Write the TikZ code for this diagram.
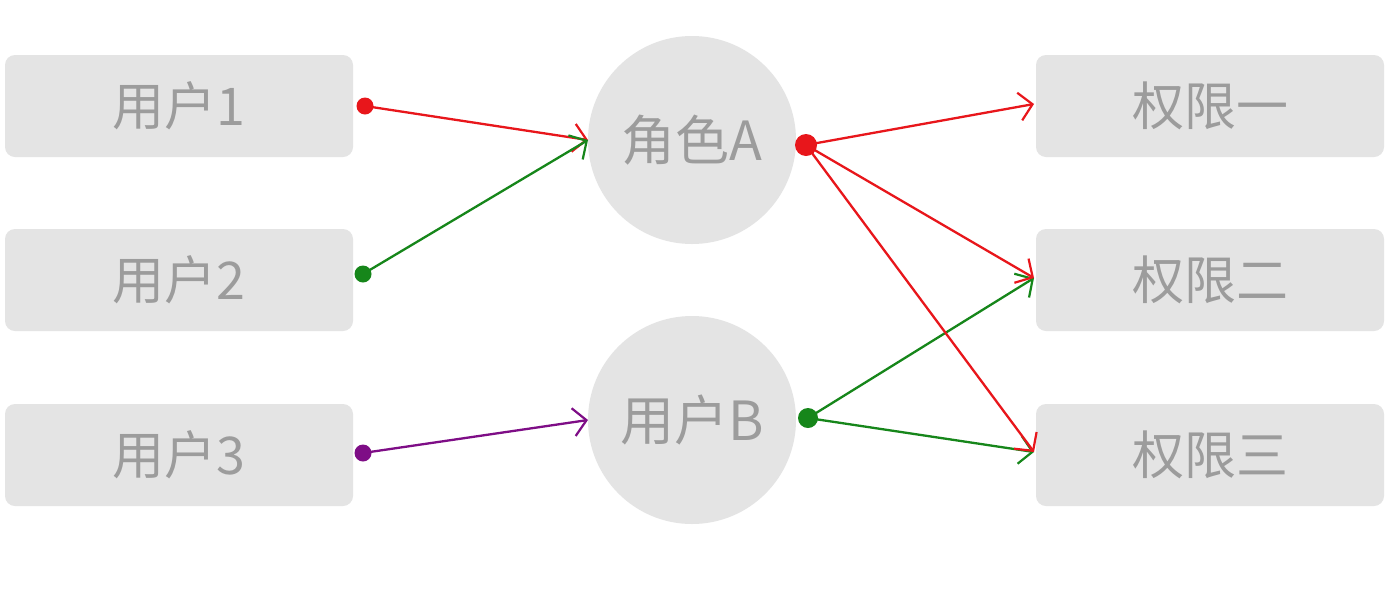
\documentclass[tikz,border=0pt]{standalone}
\usepackage{fontspec}
\setmainfont{Noto Sans CJK SC}
\usetikzlibrary{arrows.meta}
\definecolor{boxgray}{HTML}{E4E4E4}
\definecolor{txtgray}{HTML}{9C9C9C}
\definecolor{lred}{HTML}{E8161B}
\definecolor{lgreen}{HTML}{16861A}
\definecolor{lpurple}{HTML}{7E0D86}
\tikzset{
  x=1pt,y=-1pt,
  box/.style={draw=none,fill=boxgray,rounded corners=10pt,minimum width=348pt,minimum height=102pt,inner sep=0pt,text=txtgray,font=\fontsize{52}{56}\selectfont},
  role/.style={circle,draw=none,fill=boxgray,minimum size=208pt,inner sep=0pt,text=txtgray,font=\fontsize{54}{58}\selectfont},
  dotn/.style={circle,inner sep=0pt,minimum size=#1},
  conn/.style={line width=2.3pt,-{Straight Barb[length=13pt,width=28pt,line width=2.2pt]}},
}
\begin{document}
\begin{tikzpicture}
\useasboundingbox (0,0) rectangle (1394,590);
\fill[white] (0,0) rectangle (1394,590);
% left boxes
\node[box] (u1) at (179,106) {用户1};
\node[box] (u2) at (179,280) {用户2};
\node[box] (u3) at (179,455) {用户3};
% circles
\node[role] (A) at (692,140) {角色A};
\node[role] (B) at (692,420) {用户B};
% right boxes
\node[box] (p1) at (1210,106) {权限一};
\node[box] (p2) at (1210,280) {权限二};
\node[box] (p3) at (1210,455) {权限三};
% dots
\node[dotn=17pt,fill=lred] (d1) at (365,106) {};
\node[dotn=17pt,fill=lgreen] (d2) at (363,274) {};
\node[dotn=17pt,fill=lpurple] (d3) at (363,453) {};
\node[dotn=22pt,fill=lred] (dA) at (806,145) {};
\node[dotn=20pt,fill=lgreen] (dB) at (808,418) {};
% connectors
\coordinate (eA) at (588,140);
\coordinate (eB) at (588,420);
\coordinate (e1) at (1034,104);
\coordinate (e2) at (1034,278);
\coordinate (e3) at (1034,452);
\draw[conn,lred] (d1.center) -- (eA);
\draw[conn,lgreen] (d2.center) -- (eA);
\draw[conn,lpurple] (d3.center) -- (eB);
\draw[conn,lgreen] (dB.center) -- (e2);
\draw[conn,lgreen] (dB.center) -- (e3);
\draw[conn,lred] (dA.center) -- (e1);
\draw[conn,lred] (dA.center) -- (e2);
\draw[conn,lred] (dA.center) -- (e3);
\end{tikzpicture}
\end{document}
